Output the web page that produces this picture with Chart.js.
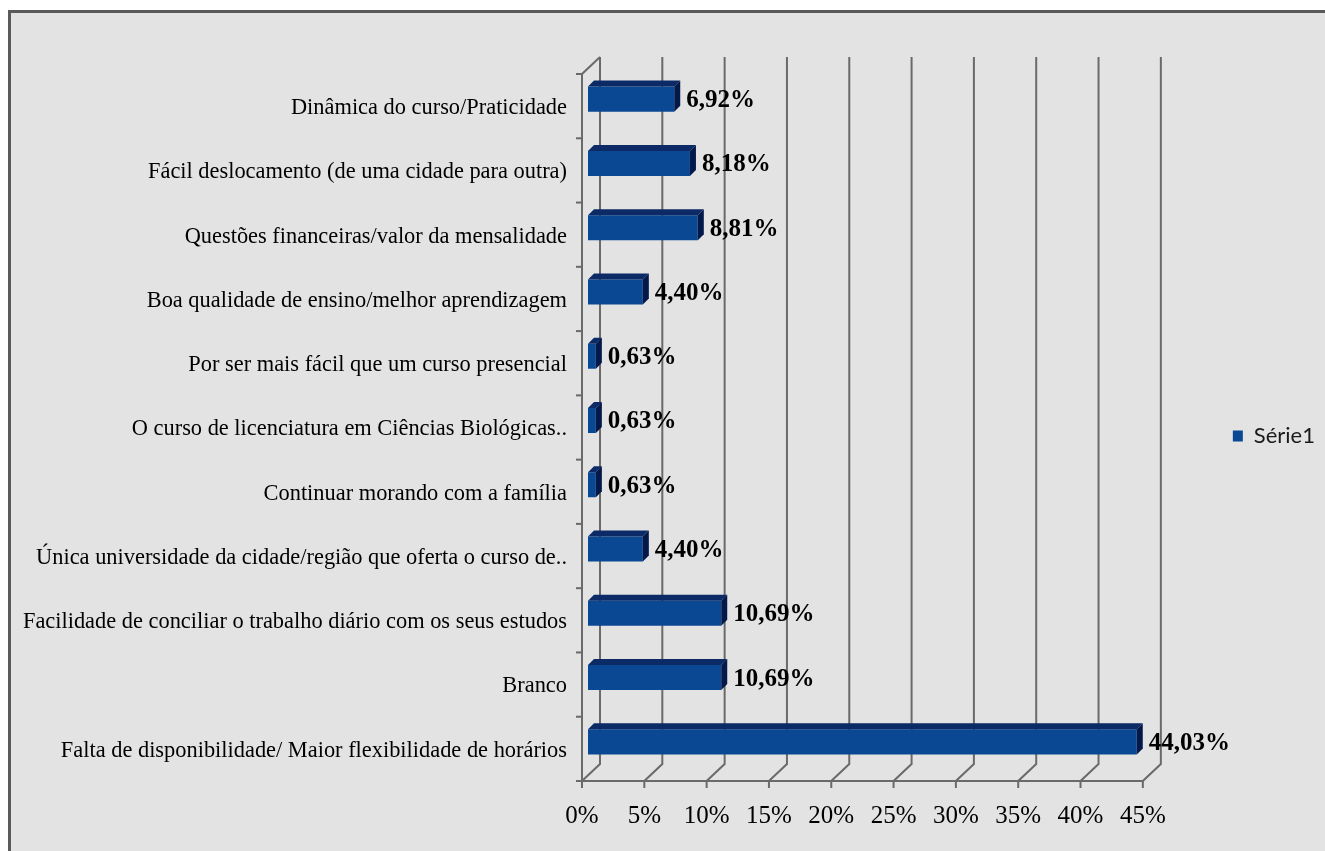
<!DOCTYPE html>
<html>
<head>
<meta charset="utf-8">
<script src="https://cdn.jsdelivr.net/npm/chart.js@4.4.1/dist/chart.umd.min.js"></script>
<style>
  html, body { margin: 0; padding: 0; background: #ffffff; width: 1325px; height: 851px; overflow: hidden; }
  #frame { position: absolute; left: 8px; top: 10px; width: 1340px; height: 860px;
           background: #e3e3e3; border-left: 3px solid #5a5a5a; border-top: 3px solid #5a5a5a; }
  #wrap { position: absolute; left: 0; top: 0; width: 1325px; height: 851px; }
</style>
</head>
<body>
<div id="frame"></div>
<div id="wrap"><canvas id="chart" width="1325" height="851"></canvas></div>
<script>
// Motivos da escolha do curso a distância (% das respostas)
const categories = [
  'Dinâmica do curso/Praticidade',
  'Fácil deslocamento (de uma cidade para outra)',
  'Questões financeiras/valor da mensalidade',
  'Boa qualidade de ensino/melhor aprendizagem',
  'Por ser mais fácil que um curso presencial',
  'O curso de licenciatura em Ciências Biológicas..',
  'Continuar morando com a família',
  'Única universidade da cidade/região que oferta o curso de..',
  'Facilidade de conciliar o trabalho diário com os seus estudos',
  'Branco',
  'Falta de disponibilidade/ Maior flexibilidade de horários'
];
const shares = [6.92, 8.18, 8.81, 4.40, 0.63, 0.63, 0.63, 4.40, 10.69, 10.69, 44.03];
const seriesName = 'Série1';
const xTickLabels = ['0%', '5%', '10%', '15%', '20%', '25%', '30%', '35%', '40%', '45%'];
const xMax = 45;
const xStep = 5;

const SERIF = '"Liberation Serif", "Times New Roman", serif';
const FRONT = { dx: -6, dy: 7 };   // front plane of the 3D box, relative to the bar plane
const BACK = { dx: 12, dy: -10 };  // back wall
const DEPTH = 6;                   // bar depth
const LINE = '#6a6a6a';

const fmt = v => v.toFixed(2).replace('.', ',') + '%';

// Walls, gridlines and axes of the 3D frame (behind the bars), then bar depth faces and value labels
const frame3d = {
  id: 'frame3d',
  beforeDatasetsDraw(chart) {
    const { ctx, chartArea: a, scales: { x, y } } = chart;
    const x0 = x.getPixelForValue(0);
    const xN = x.getPixelForValue(xMax);
    ctx.save();
    ctx.strokeStyle = LINE;
    ctx.lineWidth = 2;
    ctx.lineJoin = 'miter';
    x.ticks.forEach(t => {
      const px = x.getPixelForValue(t.value);
      ctx.beginPath();
      ctx.moveTo(px + BACK.dx, a.top + BACK.dy);
      ctx.lineTo(px + BACK.dx, a.bottom + BACK.dy);
      ctx.lineTo(px + FRONT.dx, a.bottom + FRONT.dy);
      ctx.lineTo(px + FRONT.dx, a.bottom + FRONT.dy + 7);
      ctx.stroke();
    });
    // front vertical axis, top edge of the side wall, floor front edge
    ctx.beginPath();
    ctx.moveTo(x0 + BACK.dx, a.top + BACK.dy);
    ctx.lineTo(x0 + FRONT.dx, a.top + FRONT.dy);
    ctx.lineTo(x0 + FRONT.dx, a.bottom + FRONT.dy);
    ctx.lineTo(xN + FRONT.dx, a.bottom + FRONT.dy);
    ctx.stroke();
    // category tick marks
    for (let i = 0; i <= categories.length; i++) {
      const py = y.getPixelForValue(i - 0.5) + FRONT.dy;
      ctx.beginPath();
      ctx.moveTo(x0 + FRONT.dx - 6, py);
      ctx.lineTo(x0 + FRONT.dx, py);
      ctx.stroke();
    }
    ctx.restore();
  },
  afterDatasetsDraw(chart) {
    const { ctx } = chart;
    const meta = chart.getDatasetMeta(0);
    ctx.save();
    meta.data.forEach((bar, i) => {
      const { x: xe, y: yc, base, height } = bar.getProps(['x', 'y', 'base', 'height'], true);
      const top = yc - height / 2, bot = yc + height / 2;
      ctx.fillStyle = '#0b2a66';
      ctx.beginPath();
      ctx.moveTo(base, top);
      ctx.lineTo(base + DEPTH, top - DEPTH);
      ctx.lineTo(xe + DEPTH, top - DEPTH);
      ctx.lineTo(xe, top);
      ctx.closePath();
      ctx.fill();
      ctx.fillStyle = '#03194a';
      ctx.beginPath();
      ctx.moveTo(xe, top);
      ctx.lineTo(xe + DEPTH, top - DEPTH);
      ctx.lineTo(xe + DEPTH, bot - DEPTH);
      ctx.lineTo(xe, bot);
      ctx.closePath();
      ctx.fill();
      ctx.fillStyle = '#000000';
      ctx.font = 'bold 25px ' + SERIF;
      ctx.textAlign = 'left';
      ctx.textBaseline = 'middle';
      ctx.fillText(fmt(shares[i]), xe + DEPTH + 6, yc + 1.5);
    });
    ctx.restore();
  }
};

new Chart(document.getElementById('chart'), {
  type: 'bar',
  data: {
    labels: categories,
    datasets: [{
      label: seriesName,
      data: shares,
      backgroundColor: '#0b4894',
      borderWidth: 0,
      barPercentage: 0.39,
      categoryPercentage: 1
    }]
  },
  options: {
    indexAxis: 'y',
    responsive: false,
    devicePixelRatio: 1,
    animation: false,
    layout: { padding: { left: 0, right: 0, top: 67, bottom: 12 } },
    plugins: {
      tooltip: { enabled: false },
      legend: {
        position: 'right',
        fullSize: false,
        title: { display: true, text: '', font: { size: 10, lineHeight: 1 }, padding: { top: 21, bottom: 0 } },
        labels: {
          boxWidth: 10,
          boxHeight: 11,
          padding: 84,
          color: '#1a1a1a',
          font: { family: 'Lato, "Open Sans", sans-serif', size: 22 }
        }
      }
    },
    scales: {
      x: {
        min: 0,
        max: xMax,
        grid: { display: false, drawTicks: false },
        border: { display: false },
        afterFit(scale) { scale.height = 65; },
        ticks: {
          stepSize: xStep,
          autoSkip: false,
          maxRotation: 0,
          padding: 27,
          labelOffset: -6,
          color: '#000000',
          font: { family: SERIF, size: 25 },
          callback: (v, i) => xTickLabels[i]
        }
      },
      y: {
        grid: { display: false, drawTicks: false },
        border: { display: false },
        afterFit(scale) { scale.width = 588; },
        ticks: {
          autoSkip: false,
          padding: 21,
          labelOffset: 9,
          color: '#000000',
          font: { family: SERIF, size: 22.4 }
        }
      }
    }
  },
  plugins: [frame3d]
});
</script>
</body>
</html>
